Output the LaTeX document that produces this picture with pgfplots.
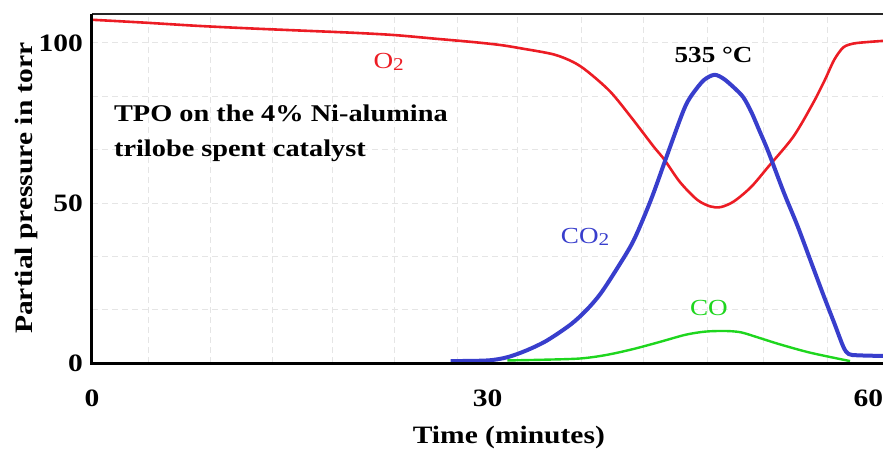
\documentclass[border=0pt]{standalone}
\usepackage{fontspec}
\setmainfont{Liberation Serif}[FakeStretch=1.18]
\usepackage{pgfplots}
\pgfplotsset{compat=1.18}

\definecolor{otwo}{RGB}{236,28,36}
\definecolor{cotwo}{RGB}{56,62,204}
\definecolor{cogreen}{RGB}{30,214,30}

\newcommand{\sub}[1]{\raisebox{-1.2pt}{\fontsize{9}{9}\selectfont #1}}

\begin{document}
\begin{tikzpicture}
\begin{axis}[
  scale only axis,
  width=395.5pt, height=174.5pt,
  xmin=0, xmax=60, ymin=0, ymax=109,
  axis line style={draw=none},
  clip=false,
  xtick={0,30,60},
  xticklabels={0,30,\makebox[0pt][r]{60}},
  ytick={0,50,100},
  major tick length=0pt,
  /pgf/number format/assume math mode=true,
  tick label style={font=\fontsize{12.5}{14}\selectfont\bfseries},
  xticklabel style={yshift=-10pt},
  yticklabel style={xshift=-1pt},
  extra x ticks={4.25,8.96,13.67,18.2,22.9,27.7,32.3,37.1,41.8,46.7,50.9,55.8},
  extra x tick labels={},
  extra x tick style={grid=major, major grid style={black!10, densely dashed, line width=0.4pt}},
  extra y ticks={16.67,33.33,50,66.67,83.33,100},
  extra y tick labels={},
  extra y tick style={grid=major, major grid style={black!10, densely dashed, line width=0.4pt}},
]

% oxygen partial pressure
\addplot[otwo, line width=1.3pt, smooth] coordinates {
  (0,107.2) (4,106.3) (8,105.3) (12,104.5) (16,103.8) (20,103.1) (23,102.4)
  (26,101.3) (29,100.2) (31,99.3) (32.5,98.3) (35,96.4) (36.5,94) (37.6,91)
  (39.3,84.8) (40.85,77) (42.6,67.6) (43.4,63.6) (44.6,56.5) (45.9,51)
  (46.9,48.9) (47.7,48.7) (48.7,50.5) (50,55) (51.3,61.3) (53.2,70.7)
  (54.7,81.2) (55.6,88.5) (56.3,94.7) (57,98.6) (57.8,99.8) (59,100.3) (60,100.6)
};

% carbon monoxide
\addplot[cogreen, line width=1.2pt, smooth] coordinates {
  (31.5,0.8) (34,1) (37,1.4) (39,2.5) (41,4.3) (43,6.5) (45,8.8) (46.5,9.8)
  (48,10) (49.2,9.6) (50.5,8) (52.2,5.8) (54.5,3.2) (57.5,0.6)
};

% carbon dioxide
\addplot[cotwo, line width=2pt, smooth, tension=0.5] coordinates {
  (27.2,0.6) (30,0.8) (31.5,1.8) (33,4) (34.5,7) (36.3,12) (37.5,16.5)
  (38.6,21.8) (39.9,30) (41.1,38.4) (42.4,51) (43.5,63.5) (44.6,76)
  (45.1,81) (45.6,84.3) (46.4,88.3) (47.2,90) (47.9,88.8) (48.7,86) (49.4,83)
  (50,78.5) (50.6,72.8) (51.3,66) (52.5,53) (53.5,43) (54.5,32) (55.5,21)
  (56.3,12.5) (57,5) (57.4,2.8) (58.1,2.4) (60,2.2)
};

% frame
\draw[black!85, line width=1pt] (axis description cs:0,1) -- (axis description cs:1,1);
\draw[black!25, line width=0.5pt] (axis description cs:1,0) -- (axis description cs:1,1);
\draw[black, line width=1.5pt] (axis description cs:0,1) -- (axis description cs:0,0) -- (axis description cs:1,0);

% annotations
\node[anchor=base west, font=\fontsize{12}{14}\selectfont\bfseries] at (axis cs:1.14,75.3) {TPO on the 4\% Ni-alumina};
\node[anchor=base west, font=\fontsize{12}{14}\selectfont\bfseries] at (axis cs:1.14,64.4) {trilobe spent catalyst};
\node[font=\fontsize{11.5}{14}\selectfont\bfseries] at (axis cs:47.15,96.3) {535 °C};
\node[otwo, font=\fontsize{11.5}{14}\selectfont] at (axis cs:22.5,94) {O\sub{2}};
\node[cotwo, font=\fontsize{11.5}{14}\selectfont] at (axis cs:37.4,39.4) {CO\sub{2}};
\node[cogreen, font=\fontsize{11.5}{14}\selectfont] at (axis cs:46.8,17.2) {CO};

% axis titles
\node[rotate=90, font=\fontsize{12.5}{14}\selectfont\bfseries] at (axis description cs:-0.0834,0.501) {Partial pressure in torr};
\node[font=\fontsize{12.5}{14}\selectfont\bfseries] at (axis description cs:0.527,-0.212) {Time (minutes)};
\end{axis}
\pgfresetboundingbox
\path[use as bounding box] (-46pt,-43.5pt) rectangle (395.5pt,181.5pt);
\end{tikzpicture}
\end{document}
